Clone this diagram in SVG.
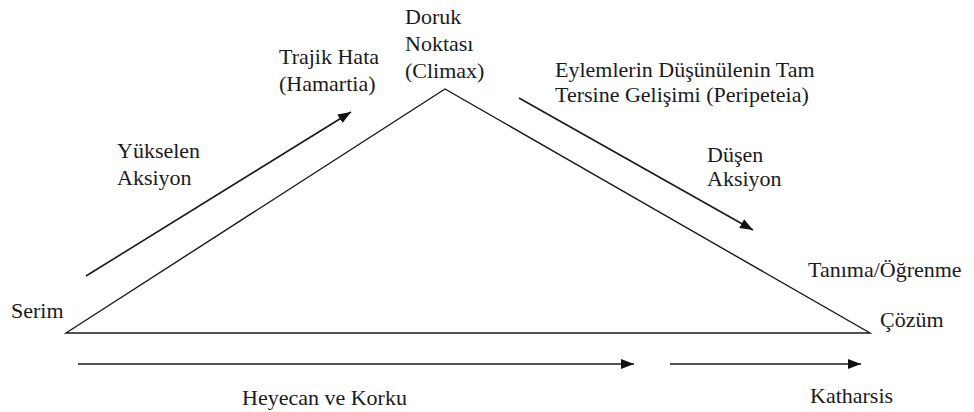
<svg xmlns="http://www.w3.org/2000/svg" width="974" height="412" viewBox="0 0 974 412">
  <style>
    .t { font-family: "Liberation Serif", "Times New Roman", serif; font-size: 22px; fill: #1a1a1a; }
    .ln { stroke: #1a1a1a; stroke-width: 1.4; fill: none; }
    .arr { stroke: #1a1a1a; stroke-width: 1.6; fill: none; marker-end: url(#ah); }
  </style>
  <defs>
    <marker id="ah" markerUnits="userSpaceOnUse" markerWidth="14" markerHeight="12" refX="13" refY="5" orient="auto">
      <path d="M0,0 L13,5 L0,10 Z" fill="#111"/>
    </marker>
  </defs>
  <rect width="974" height="412" fill="#fff"/>

  <g id="triangle">
    <polygon class="ln" points="66,333 445,89 870,333"/>
  </g>

  <g id="connectors">
    <line class="arr" x1="86" y1="276" x2="351" y2="112"/>
    <line class="arr" x1="519" y1="98" x2="753" y2="230"/>
    <line class="arr" x1="78" y1="364" x2="634" y2="364"/>
    <line class="arr" x1="670" y1="364" x2="861" y2="364"/>
  </g>

  <g id="doruk">
    <text class="t" x="405" y="24">Doruk</text>
    <text class="t" x="405" y="51">Noktası</text>
    <text class="t" x="405" y="78">(Climax)</text>
  </g>
  <g id="trajik">
    <text class="t" x="279" y="64">Trajik Hata</text>
    <text class="t" x="279" y="91">(Hamartia)</text>
  </g>
  <g id="peripeteia">
    <text class="t" x="555" y="77">Eylemlerin Düşünülenin Tam</text>
    <text class="t" x="555" y="102">Tersine Gelişimi (Peripeteia)</text>
  </g>
  <g id="yukselen">
    <text class="t" x="117" y="158">Yükselen</text>
    <text class="t" x="117" y="185">Aksiyon</text>
  </g>
  <g id="dusen">
    <text class="t" x="707" y="162">Düşen</text>
    <text class="t" x="707" y="186">Aksiyon</text>
  </g>
  <g id="serim">
    <text class="t" x="11" y="318">Serim</text>
  </g>
  <g id="tanima">
    <text class="t" x="808" y="277">Tanıma/Öğrenme</text>
  </g>
  <g id="cozum">
    <text class="t" x="880" y="327">Çözüm</text>
  </g>
  <g id="heyecan">
    <text class="t" x="242" y="405">Heyecan ve Korku</text>
  </g>
  <g id="katharsis">
    <text class="t" x="810" y="403">Katharsis</text>
  </g>
</svg>
